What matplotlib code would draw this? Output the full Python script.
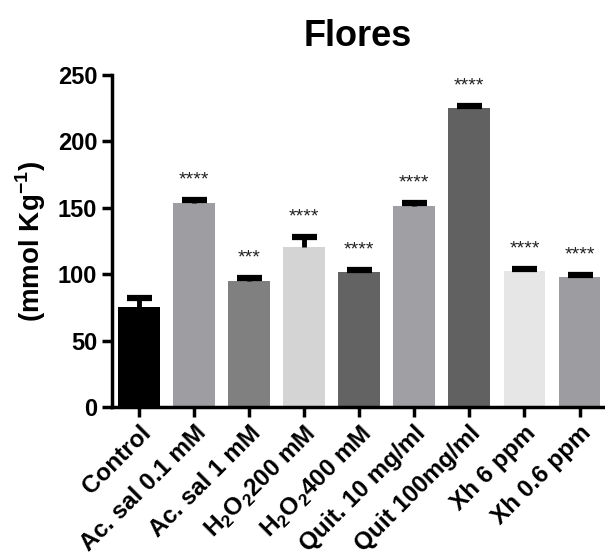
import matplotlib
matplotlib.use("Agg")
import matplotlib.pyplot as plt

plt.rcParams['font.family'] = ['Liberation Sans', 'DejaVu Sans']
plt.rcParams['font.weight'] = 'bold'
plt.rcParams['mathtext.fontset'] = 'custom'
plt.rcParams['mathtext.rm'] = 'Liberation Sans'
plt.rcParams['mathtext.bf'] = 'Liberation Sans:bold'

# data
categories = ['Control', 'Ac. sal 0.1 mM', 'Ac. sal 1 mM', r'H$_2$O$_2$200 mM',
              r'H$_2$O$_2$400 mM', 'Quit. 10 mg/ml', 'Quit 100mg/ml',
              'Xh 6 ppm', 'Xh 0.6 ppm']
means = [75, 153.5, 95, 120.5, 101.5, 151.5, 225, 102.5, 98]
errors = [7, 2.5, 2, 7.5, 1.5, 2, 1.5, 1.5, 1.5]
stars = ['', '****', '***', '****', '****', '****', '****', '****', '****']
colors = ['#000000', '#9e9ea2', '#808080', '#d4d4d4', '#636363',
          '#a0a0a4', '#616161', '#e6e6e6', '#9d9da1']

fig = plt.figure(figsize=(6.05, 5.56), dpi=100)
ax = fig.add_axes([0.185, 0.268, 0.812, 0.597])

x = list(range(len(categories)))
tops = [m + e for m, e in zip(means, errors)]
ax.bar(x, means, width=0.76, color=colors, zorder=2)
# upper error bars only: stem + cap
ax.vlines(x, means, tops, color='black', linewidth=3.5, zorder=3)
ax.plot(x, tops, linestyle='none', marker='_', markersize=18,
        markeredgewidth=4.5, color='black', zorder=3)

for xi, t, s in zip(x, tops, stars):
    if s:
        ax.text(xi, t + 15, s, ha='center', va='center', fontsize=14,
                fontweight='normal', color='#222222')

ax.set_xlim(-0.49, 8.43)
ax.set_ylim(0, 250)
ax.set_yticks([0, 50, 100, 150, 200, 250])
ax.set_xticks(x)
ax.set_xticklabels(categories, rotation=45, ha='right', rotation_mode='anchor',
                   fontsize=17.5, fontweight='bold')
ax.tick_params(axis='y', labelsize=17, width=2.5, length=7)
ax.tick_params(axis='x', width=2.5, length=7)
for lab in ax.get_yticklabels():
    lab.set_fontweight('bold')

ax.spines['top'].set_visible(False)
ax.spines['right'].set_visible(False)
ax.spines['left'].set_linewidth(2.5)
ax.spines['bottom'].set_linewidth(2.5)

ax.set_ylabel(r'(mmol Kg$^{\mathbf{-1}}$)', fontsize=20, fontweight='bold', labelpad=7)
ax.set_title('Flores', fontsize=26, fontweight='bold', pad=21)

fig.savefig('out.png', dpi=100)
